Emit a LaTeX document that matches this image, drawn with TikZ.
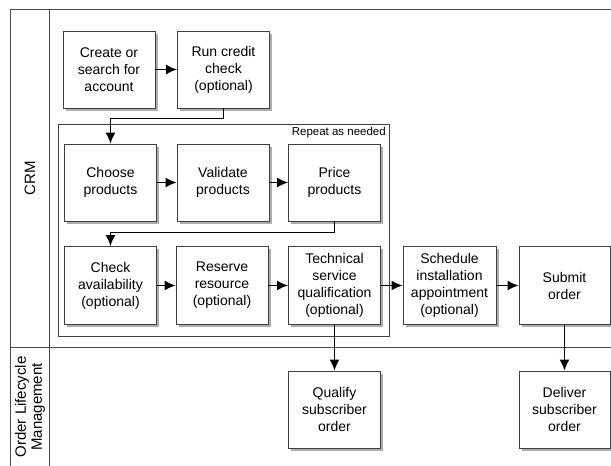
\documentclass[tikz,border=0pt]{standalone}
\usepackage{fontspec}
\setmainfont{Liberation Sans}
\usetikzlibrary{arrows.meta,shadows}
\begin{document}
\begin{tikzpicture}[x=1pt,y=-1pt,
  stepbox/.style={draw=black!75, line width=0.9pt, fill=white,
    minimum width=92pt, minimum height=77pt, inner sep=2pt,
    align=center, font=\fontsize{14}{17}\selectfont,
    drop shadow={shadow xshift=2.5pt, shadow yshift=-2.5pt, fill=black!40, opacity=0.8}},
  arr/.style={-{Latex[length=11pt,width=10pt]}, line width=1.4pt, black},
  lane/.style={draw=black!70, line width=1pt},
  lanelabel/.style={rotate=90, align=center, font=\fontsize{15}{16}\selectfont}]
\useasboundingbox (0,0) rectangle (611,466);
\clip (0,0) rectangle (611,466);
\fill[white] (0,0) rectangle (611,466);

% swimlane frame
\draw[lane] (10,9) rectangle (630,490);
\draw[lane] (49,9) -- (49,490);
\draw[lane] (10,347) -- (630,347);
\node[lanelabel] (crm) at (30,178) {CRM};
\node[lanelabel] (olm) at (30,407) {Order Lifecycle\\Management};

% repeat group
\draw[draw=black!75, line width=0.9pt] (58,124) rectangle (389,336);
\node[anchor=north east, inner sep=1pt, font=\fontsize{11.5}{12}\selectfont] (rep) at (387,125.5) {Repeat as needed};

% process steps
\node[stepbox] (create) at (109,69.5) {Create or\\search for\\account};
\node[stepbox] (run) at (223.5,69.5) {Run credit\\check\\(optional)};
\node[stepbox] (choose) at (110.5,182.5) {Choose\\products};
\node[stepbox] (validate) at (223,182.5) {Validate\\products};
\node[stepbox] (price) at (334.5,182.5) {Price\\products};
\node[stepbox, minimum height=78pt] (check) at (110.5,285.5) {Check\\availability\\(optional)};
\node[stepbox, minimum height=78pt] (reserve) at (222,285.5) {Reserve\\resource\\(optional)};
\node[stepbox, minimum height=78pt] (tech) at (334.5,285.5) {Technical\\service\\qualification\\(optional)};
\node[stepbox, minimum height=78pt, minimum width=93pt] (sched) at (449.5,285.5) {Schedule\\installation\\appointment\\(optional)};
\node[stepbox, minimum height=78pt, minimum width=91pt] (submit) at (564.5,285.5) {Submit\\order};
\node[stepbox] (qualify) at (334.5,409.5) {Qualify\\subscriber\\order};
\node[stepbox, minimum width=91pt] (deliver) at (564.5,409.5) {Deliver\\subscriber\\order};

% connectors
\draw[arr] (create) -- (run);
\draw[arr] (run.south) -- ++(0,10) -| (choose.north);
\draw[arr] (choose) -- (validate);
\draw[arr] (validate) -- (price);
\draw[arr] (price.south) -- ++(0,11) -| (check.north);
\draw[arr] (check) -- (reserve);
\draw[arr] (reserve) -- (tech);
\draw[arr] (tech) -- (sched);
\draw[arr] (sched) -- (submit);
\draw[arr] (tech) -- (qualify);
\draw[arr] (submit) -- (deliver);
\end{tikzpicture}
\end{document}
